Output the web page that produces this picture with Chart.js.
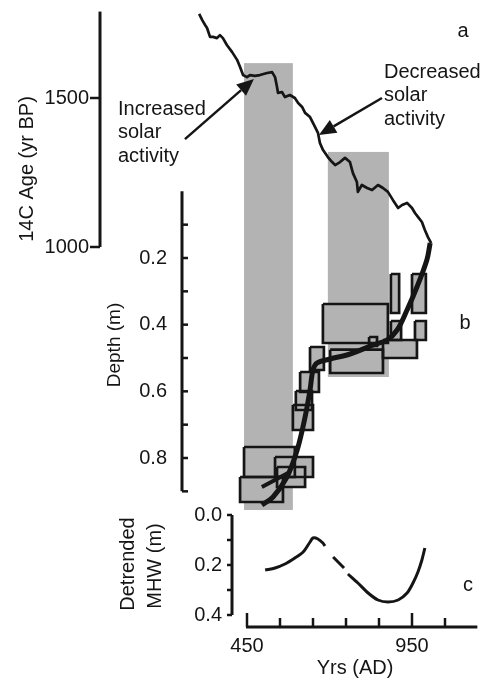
<!DOCTYPE html>
<html>
<head>
<meta charset="utf-8">
<script src="https://cdn.jsdelivr.net/npm/chart.js@4.4.0/dist/chart.umd.min.js"></script>
<style>
  html, body { margin: 0; padding: 0; background: #fff; }
  #chart { display: block; }
</style>
</head>
<body>
<canvas id="chart" width="492" height="679"></canvas>
<script>
// -------------------- DATA --------------------

// panel a: 14C age (yr BP) against calendar year (AD)
const calYears = [305, 314, 323, 329, 338, 347, 359, 368, 377, 389, 405, 420, 429, 438, 450, 459, 474, 489, 511, 526,
  535, 541, 544, 556, 565, 580, 595, 605, 617, 626, 641, 656, 665, 671, 680, 695, 708, 717, 732, 747,
  762, 771, 783, 786, 798, 814, 829, 847, 862, 877, 892, 908, 920, 935, 950, 959, 968, 980, 989, 998, 1008];
const c14Ages = [1782, 1762, 1745, 1735, 1705, 1705, 1701, 1711, 1701, 1678, 1654, 1628, 1604, 1577, 1570, 1577, 1574, 1577, 1584, 1587,
  1570, 1537, 1517, 1520, 1503, 1510, 1500, 1483, 1470, 1450, 1436, 1403, 1383, 1349, 1326, 1302, 1285, 1275, 1285, 1299,
  1285, 1248, 1218, 1185, 1208, 1198, 1191, 1208, 1198, 1185, 1158, 1131, 1141, 1148, 1131, 1114, 1101, 1084, 1057, 1034, 1013];

// panel b: age-depth model
const modelYears = [495, 529, 571, 602, 626, 641, 650, 662, 702, 762, 832, 874, 905, 935, 965, 995, 1005];
const modelDepths = [0.941, 0.917, 0.857, 0.776, 0.677, 0.596, 0.536, 0.515, 0.503, 0.488, 0.461, 0.446, 0.416, 0.356, 0.287, 0.206, 0.155];
const altYears = [495, 580];
const altDepths = [0.887, 0.842];

// panel b: dated samples (calendar range x depth range)
const boxYearFrom = [680, 886, 950, 886, 959, 862, 820, 702, 641, 611, 598, 589, 441, 535, 541, 429];
const boxYearTo = [877, 911, 992, 917, 992, 965, 844, 862, 683, 668, 647, 650, 595, 650, 626, 559];
const boxDepthTop = [0.338, 0.248, 0.248, 0.389, 0.389, 0.446, 0.437, 0.475, 0.467, 0.542, 0.599, 0.641, 0.767, 0.797, 0.827, 0.857];
const boxDepthBottom = [0.455, 0.365, 0.365, 0.446, 0.446, 0.500, 0.464, 0.545, 0.536, 0.602, 0.656, 0.716, 0.857, 0.857, 0.887, 0.932];

// panel c: detrended MHW (null = break in the line)
const mhwYears = [505, 535, 565, 595, 620, 641, 650, 665, 680, 686, 698, 711, 744, 750,
  756, 786, 817, 847, 877, 908, 935, 953, 968, 980, 989];
const mhwValues = [0.22, 0.212, 0.196, 0.172, 0.148, 0.108, 0.092, 0.096, 0.112, 0.124, null, 0.168, 0.212, null,
  0.236, 0.272, 0.312, 0.34, 0.348, 0.34, 0.312, 0.272, 0.228, 0.18, 0.132];

// grey periods of solar activity
const bandFrom = [441, 695];
const bandTo = [589, 880];
const bandTopAge = [1617, 1319];
const bandBottomDepth = [0.956, 0.557];

// arrows (tail -> head, in year / 14C age)
const arrowFromYear = [262, 859];
const arrowFromAge = [1362, 1500];
const arrowToYear = [471, 668];
const arrowToAge = [1564, 1376];

// tick labels
const ageTicks = [1000, 1500];
const ageLabels = ["1000", "1500"];
const depthTicks = [0.1, 0.2, 0.3, 0.4, 0.5, 0.6, 0.7, 0.8, 0.9];
const depthLabels = ["0.2", "0.4", "0.6", "0.8"];
const mhwTicks = [0, 0.1, 0.2, 0.3, 0.4];
const mhwLabels = ["0.0", "0.2", "0.4"];
const yearTicks = [450, 550, 650, 750, 850, 950, 1050];
const yearLabels = ["450", "950"];

// -------------------- LAYOUT --------------------

const W = 492, H = 679;
const FONT = '"Liberation Sans", Arial, sans-serif';
const INK = "#151515";
const GREY = "#b3b3b3";

// value range of a hidden scale so that v1 lands on pixel p1 and v2 on p2
function fitX(v1, p1, v2, p2) {
  const k = (v2 - v1) / (p2 - p1);
  return { min: v1 - p1 * k, max: v1 + (W - p1) * k };
}
function fitY(v1, p1, v2, p2) {
  const k = (v2 - v1) / (p2 - p1);
  const top = v1 - p1 * k, bottom = v1 + (H - p1) * k;
  return top > bottom ? { min: bottom, max: top, reverse: false } : { min: top, max: bottom, reverse: true };
}

const xRange = fitX(450, 247, 950, 412);
const aRange = fitY(1500, 98, 1000, 247);
const bRange = fitY(0.2, 258, 0.8, 458);
const cRange = fitY(0, 515, 0.4, 615);

function hidden(r) {
  return { type: "linear", display: false, min: r.min, max: r.max, reverse: !!r.reverse };
}

// -------------------- DATASETS --------------------

const toPts = (xs, ys) => xs.map((x, i) => ({ x: x, y: ys[i] }));

const boxSets = boxYearFrom.map((x0, i) => {
  const x1 = boxYearTo[i], d0 = boxDepthTop[i], d1 = boxDepthBottom[i];
  return {
    yAxisID: "yb",
    order: 3,
    data: [{ x: x0, y: d0 }, { x: x1, y: d0 }, { x: x1, y: d1 }, { x: x0, y: d1 }, { x: x0, y: d0 }],
    fill: "shape",
    backgroundColor: GREY,
    borderColor: INK,
    borderWidth: 2.7,
    borderJoinStyle: "miter",
    tension: 0,
  };
});

const datasets = [
  {
    yAxisID: "ya",
    order: 0,
    data: toPts(calYears, c14Ages),
    borderColor: INK,
    borderWidth: 2.7,
    borderJoinStyle: "round",
    tension: 0,
    fill: false,
  },
  {
    yAxisID: "yb",
    order: 0,
    data: toPts(modelYears, modelDepths),
    borderColor: INK,
    borderWidth: 5,
    tension: 0.35,
    fill: false,
  },
  {
    yAxisID: "yb",
    order: 0,
    data: toPts(altYears, altDepths),
    borderColor: INK,
    borderWidth: 4,
    tension: 0,
    fill: false,
  },
  {
    yAxisID: "yc",
    order: 0,
    data: toPts(mhwYears, mhwValues),
    borderColor: INK,
    borderWidth: 3,
    tension: 0.3,
    spanGaps: false,
    fill: false,
  },
  ...boxSets,
];

// -------------------- DRAWING HELPERS --------------------

function text(ctx, str, x, y, align, size, rot) {
  ctx.save();
  ctx.translate(x, y);
  if (rot) ctx.rotate(rot);
  ctx.font = (size || 20) + "px " + FONT;
  ctx.fillStyle = INK;
  ctx.textAlign = align || "center";
  ctx.textBaseline = "middle";
  ctx.fillText(str, 0, 0);
  ctx.restore();
}

function arrow(ctx, x0, y0, x1, y1) {
  const a = Math.atan2(y1 - y0, x1 - x0);
  const len = 17, half = 7.5;
  const bx = x1 - len * Math.cos(a), by = y1 - len * Math.sin(a);
  ctx.beginPath();
  ctx.moveTo(x0, y0);
  ctx.lineTo(bx, by);
  ctx.stroke();
  ctx.beginPath();
  ctx.moveTo(x1, y1);
  ctx.lineTo(bx + half * Math.sin(a), by - half * Math.cos(a));
  ctx.lineTo(bx - half * Math.sin(a), by + half * Math.cos(a));
  ctx.closePath();
  ctx.fill();
}

// vertical axis: line from v0 to v1 at pixel column ax, ticks to side (-1 left, 1 right)
function vAxis(ctx, scale, ax, v0, v1, ticks, labels, side, tickLen, gap) {
  ctx.lineWidth = 3;
  ctx.strokeStyle = INK;
  ctx.beginPath();
  ctx.moveTo(ax, scale.getPixelForValue(v0));
  ctx.lineTo(ax, scale.getPixelForValue(v1));
  ctx.stroke();
  ctx.lineWidth = 2.5;
  ticks.forEach((t) => {
    const py = scale.getPixelForValue(t);
    ctx.beginPath();
    ctx.moveTo(ax, py);
    ctx.lineTo(ax + side * tickLen, py);
    ctx.stroke();
  });
  labels.forEach((l) => {
    text(ctx, l, ax - gap, scale.getPixelForValue(Number(l)), "right");
  });
}

// -------------------- PLUGINS --------------------

const bandsPlugin = {
  id: "bands",
  beforeDraw(chart) {
    const { ctx, scales } = chart;
    ctx.save();
    ctx.fillStyle = GREY;
    bandFrom.forEach((f, i) => {
      const x0 = scales.x.getPixelForValue(f);
      const x1 = scales.x.getPixelForValue(bandTo[i]);
      const y0 = scales.ya.getPixelForValue(bandTopAge[i]);
      const y1 = scales.yb.getPixelForValue(bandBottomDepth[i]);
      ctx.fillRect(x0, y0, x1 - x0, y1 - y0);
    });
    ctx.restore();
  },
};

const axesPlugin = {
  id: "axes",
  afterDatasetsDraw(chart) {
    const { ctx, scales } = chart;
    const x = scales.x;
    ctx.save();
    ctx.lineCap = "butt";

    // panel a
    vAxis(ctx, scales.ya, 100, 1000, 1790, ageTicks, ageLabels, -1, 10, 11);
    text(ctx, "14C Age (yr BP)", 27, 169, "center", 20, -Math.PI / 2);

    // panel b
    vAxis(ctx, scales.yb, 182, 0.0, 0.9, depthTicks, depthLabels, 1, 6, 15);
    text(ctx, "Depth (m)", 115, 345, "center", 19, -Math.PI / 2);

    // panel c
    vAxis(ctx, scales.yc, 232, 0.0, 0.4, mhwTicks, mhwLabels, -1, 5, 10);
    text(ctx, "Detrended", 128, 564, "center", 20, -Math.PI / 2);
    text(ctx, "MHW (m)", 155, 566, "center", 20, -Math.PI / 2);

    // shared year axis
    const ay = 627;
    ctx.lineWidth = 3;
    ctx.beginPath();
    ctx.moveTo(x.getPixelForValue(450) - 1, ay);
    ctx.lineTo(x.getPixelForValue(1148), ay);
    ctx.stroke();
    ctx.lineWidth = 2.5;
    yearTicks.forEach((t) => {
      const px = x.getPixelForValue(t);
      const major = yearLabels.indexOf(String(t)) >= 0;
      ctx.beginPath();
      ctx.moveTo(px, ay);
      ctx.lineTo(px, ay - (major ? 14 : 9));
      ctx.stroke();
    });
    yearLabels.forEach((l) => text(ctx, l, x.getPixelForValue(Number(l)), 646, "center"));
    text(ctx, "Yrs (AD)", 355, 668, "center");

    // arrows and notes
    ctx.lineWidth = 2.5;
    ctx.fillStyle = INK;
    arrowFromYear.forEach((fy, i) => {
      arrow(ctx,
        x.getPixelForValue(fy), scales.ya.getPixelForValue(arrowFromAge[i]),
        x.getPixelForValue(arrowToYear[i]), scales.ya.getPixelForValue(arrowToAge[i]));
    });
    ["Increased", "solar", "activity"].forEach((s, i) => text(ctx, s, 118, 109 + i * 23.5, "left"));
    ["Decreased", "solar", "activity"].forEach((s, i) => text(ctx, s, 384, 72 + i * 23.5, "left"));

    // panel letters
    text(ctx, "a", 463, 31, "center");
    text(ctx, "b", 465, 323, "center");
    text(ctx, "c", 468, 585, "center");
    ctx.restore();
  },
};

// -------------------- CHART --------------------

new Chart(document.getElementById("chart"), {
  type: "line",
  data: { datasets: datasets },
  options: {
    responsive: false,
    animation: false,
    events: [],
    layout: { padding: 0 },
    elements: { point: { radius: 0 } },
    scales: {
      x: hidden(xRange),
      ya: hidden(aRange),
      yb: hidden(bRange),
      yc: hidden(cRange),
    },
    plugins: {
      legend: { display: false },
      tooltip: { enabled: false },
      filler: { drawTime: "beforeDatasetsDraw" },
    },
  },
  plugins: [bandsPlugin, axesPlugin],
});
</script>
</body>
</html>
